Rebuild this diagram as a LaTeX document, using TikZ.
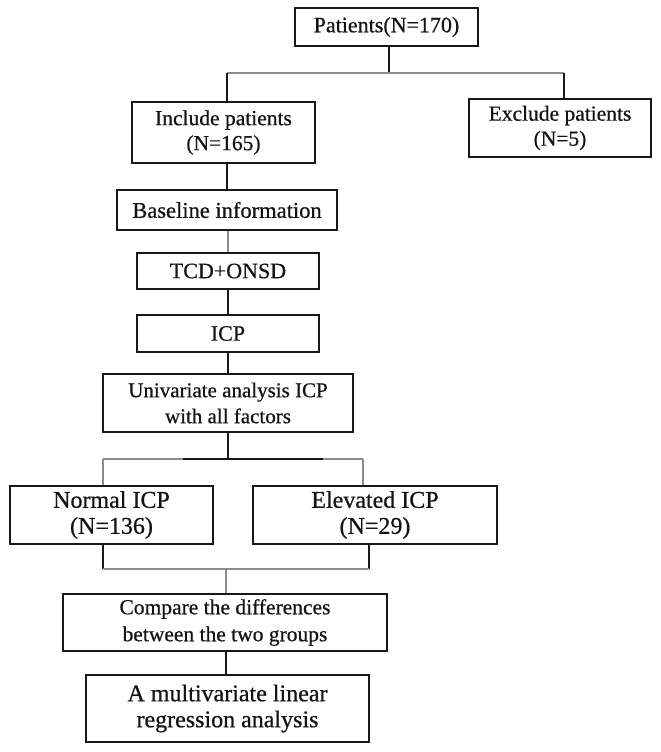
\documentclass[tikz,border=0pt]{standalone}
\usepackage{fontspec}
\setmainfont[FakeBold=0.6]{Liberation Serif}
\usetikzlibrary{calc}
\begin{document}
\begin{tikzpicture}[x=1pt,y=-1pt,
  box/.style={draw=black!90, line width=1.8pt, inner sep=0pt, align=center, text=black!92},
  ln/.style={draw=black!90, line width=1.8pt},
  gl/.style={draw=black!45, line width=1.8pt},
  fs/.style={font=\fontsize{#1}{#1}\selectfont}]
\useasboundingbox[fill=white] (0,0) rectangle (661,752);
% boxes (centre, width, height)
\node[box, fs=22, minimum width=183pt, minimum height=38pt] (pat) at (386.5,27) {Patients(N=170)};
\node[box, minimum width=183pt, minimum height=61pt, font=\fontsize{21.5}{25}\selectfont] (inc) at (223.5,132.5) {Include patients\\(N=165)};
\node[box, minimum width=182pt, minimum height=58pt, font=\fontsize{21.5}{25}\selectfont] (exc) at (560,128) {Exclude patients\\(N=5)};
\node[box, fs=22.5, minimum width=220pt, minimum height=40pt] (base) at (227,210) {Baseline information};
\node[box, fs=22, minimum width=182pt, minimum height=36pt] (tcd) at (228,271) {TCD+ONSD};
\node[box, fs=22, minimum width=182pt, minimum height=37pt] (icp) at (228,333.5) {ICP};
\node[box, minimum width=250pt, minimum height=58pt, font=\fontsize{21}{26}\selectfont] (uni) at (228,403) {Univariate analysis ICP\\with all factors};
\node[box, minimum width=203pt, minimum height=58pt, font=\fontsize{24}{26}\selectfont] (norm) at (111.5,515) {Normal ICP\\(N=136)};
\node[box, minimum width=244pt, minimum height=58pt, font=\fontsize{24}{26}\selectfont] (elev) at (375,515) {Elevated ICP\\(N=29)};
\node[box, minimum width=324pt, minimum height=57pt, font=\fontsize{21.5}{27}\selectfont] (comp) at (225,622.5) {Compare the differences\\between the two groups};
\node[box, minimum width=283pt, minimum height=67pt, font=\fontsize{24}{26}\selectfont] (fin) at (227.5,708.5) {A multivariate linear\\regression analysis};
% junctions
\coordinate (j1) at (389,73);
\coordinate (j1l) at (227,73);
\coordinate (j1r) at (564,73);
\coordinate (j2) at (228,459);
\coordinate (j2l) at (103,459);
\coordinate (j2r) at (363,459);
\coordinate (j3) at (226,569);
\coordinate (j3l) at (103,569);
\coordinate (j3r) at (369,569);
% connectors
\draw[ln] (pat.south -| j1) -- (j1);
\draw[gl] (j1l) -- (j1r);
\draw[ln] (j1l) -- (j1l |- inc.north);
\draw[ln] (j1r) -- (j1r |- exc.north);
\draw[ln] (inc.south -| base.north) -- (base.north);
\draw[gl] (base.south -| tcd.north) -- (tcd.north);
\draw[ln] (tcd) -- (icp);
\draw[ln] (icp) -- (uni);
\draw[ln] (uni.south -| j2) -- (j2);
\draw[gl] (j2l) -- (j2r);
\draw[ln] ($(j2l)+(80,0)$) -- ($(j2r)+(-40,0)$);
\draw[gl] (j2l) -- (j2l |- norm.north);
\draw[gl] (j2r) -- (j2r |- elev.north);
\draw[ln] (norm.south -| j3l) -- (j3l);
\draw[ln] (elev.south -| j3r) -- (j3r);
\draw[gl] (j3l) -- (j3r);
\draw[gl] (j3) -- (j3 |- comp.north);
\draw[ln] (comp.south -| j3) -- (j3 |- fin.north);
\end{tikzpicture}
\end{document}
